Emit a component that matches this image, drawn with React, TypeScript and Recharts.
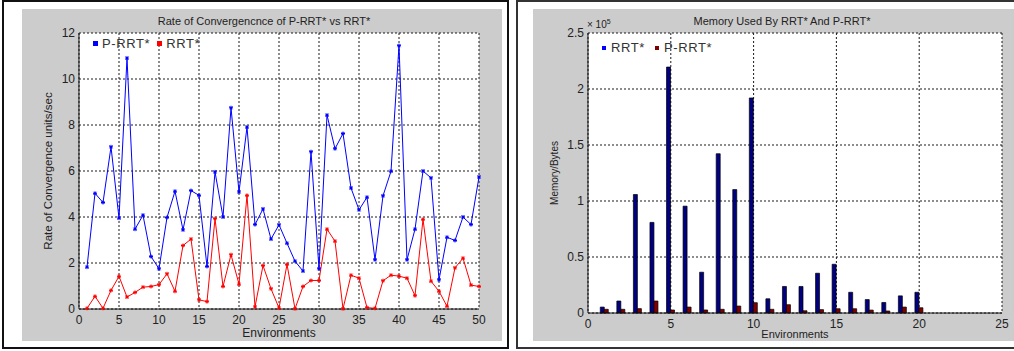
import React from 'react';
import { LineChart, Line, BarChart, Bar, XAxis, YAxis, CartesianGrid, Legend } from 'recharts';

// Rate of convergence, environments 1..50
const ENVIRONMENTS = Array.from({ length: 50 }, (_, i) => i + 1);
const P_RRT_RATE = [
  1.82, 5.03, 4.63, 7.05, 3.95, 10.91, 3.47, 4.08, 2.28, 1.75,
  3.98, 5.12, 3.44, 5.15, 4.94, 1.85, 5.96, 4.0, 8.75, 5.09,
  7.91, 3.67, 4.35, 3.04, 3.66, 2.86, 2.08, 1.65, 6.84, 1.75,
  8.43, 6.97, 7.63, 5.26, 4.31, 4.86, 2.14, 4.92, 5.99, 11.45,
  2.14, 3.47, 6.0, 5.7, 1.27, 3.12, 2.98, 4.0, 3.67, 5.74,
];
const RRT_RATE = [
  0.03, 0.55, 0.03, 0.81, 1.42, 0.52, 0.72, 0.95, 0.98, 1.06,
  1.53, 0.77, 2.76, 3.04, 0.4, 0.32, 3.93, 0.98, 2.36, 1.08,
  4.94, 0.09, 1.89, 0.88, 0.04, 1.94, 0.01, 0.98, 1.24, 1.24,
  3.47, 2.95, 0.01, 1.47, 1.34, 0.06, 0.03, 1.23, 1.47, 1.43,
  1.34, 0.58, 3.9, 1.21, 0.77, 0.12, 1.79, 2.21, 1.04, 0.98,
];
const RATE_X_TICKS = [0, 5, 10, 15, 20, 25, 30, 35, 40, 45, 50];
const RATE_Y_TICKS = [0, 2, 4, 6, 8, 10, 12];

// Memory (bytes), environments 1..20
const MEM_ENVIRONMENTS = Array.from({ length: 20 }, (_, i) => i + 1);
const RRT_MEMORY = [
  5300, 10700, 105800, 80900, 219600, 95400, 36400, 142200, 110200, 192000,
  12700, 23700, 23700, 35500, 43500, 18500, 12000, 9400, 15300, 18500,
];
const P_RRT_MEMORY = [
  3300, 3300, 3900, 10700, 2700, 5300, 2700, 3300, 6200, 9200,
  3300, 7400, 2000, 3000, 3800, 3800, 2600, 1800, 5300, 4700,
];
const MEM_X_TICKS = [0, 5, 10, 15, 20, 25];
const MEM_Y_TICKS = [0, 50000, 100000, 150000, 200000, 250000];

const rateData = ENVIRONMENTS.map((env, i) => ({ env, prrt: P_RRT_RATE[i], rrt: RRT_RATE[i] }));
const memData = MEM_ENVIRONMENTS.map((env, i) => ({ env, rrt: RRT_MEMORY[i], prrt: P_RRT_MEMORY[i] }));

const FONT = '"Liberation Sans", Arial, sans-serif';
const tickStyle = { fill: '#222', fontSize: 12, fontFamily: FONT };
const gridColor = '#1a1a1a';

const starDot = (color: string) => (props: any) => {
  const { cx, cy, index } = props;
  if (cx == null || cy == null) return <g key={`s-${index}`} />;
  const r = 2;
  return (
    <g key={`s-${index}`} stroke={color} strokeWidth={1}>
      <line x1={cx - r} y1={cy} x2={cx + r} y2={cy} />
      <line x1={cx} y1={cy - r} x2={cx} y2={cy + r} />
      <line x1={cx - 1.5} y1={cy - 1.5} x2={cx + 1.5} y2={cy + 1.5} />
      <line x1={cx - 1.5} y1={cy + 1.5} x2={cx + 1.5} y2={cy - 1.5} />
    </g>
  );
};

// legend keeps series order (recharts sorts by name otherwise)
const legendContent =
  (order: string[], colors: Record<string, string>, sq: number, gap: number, between: number) => (props: any) => {
    const items = [...(props.payload || [])].sort(
      (a: any, b: any) => order.indexOf(a.dataKey) - order.indexOf(b.dataKey)
    );
    return (
      <div style={{ display: 'flex', alignItems: 'center', fontSize: 13, letterSpacing: 0.6, color: '#333', lineHeight: '15px', fontFamily: FONT }}>
        {items.map((p: any, i: number) => (
          <div key={i} style={{ display: 'flex', alignItems: 'center', marginLeft: i ? between : 0 }}>
            <div style={{ width: sq, height: sq, background: colors[p.dataKey] ?? p.color, marginRight: gap }} />
            <span>{p.value}</span>
          </div>
        ))}
      </div>
    );
  };

const RateChart = () => (
  <LineChart width={480} height={332} data={rateData} margin={{ top: 24, right: 23, left: 0, bottom: 0 }}>
    <CartesianGrid fill="#fff" stroke={gridColor} strokeDasharray="2 2" />
    <XAxis
      dataKey="env"
      type="number"
      domain={[0, 50]}
      ticks={RATE_X_TICKS}
      height={32}
      tickSize={0}
      tickMargin={6}
      tick={tickStyle}
      axisLine={{ stroke: '#111' }}
      label={{ value: 'Environments', position: 'insideBottom', offset: 4, style: { fill: '#222', fontSize: 12, fontFamily: FONT } }}
    />
    <XAxis xAxisId="top" orientation="top" dataKey="env" type="number" domain={[0, 50]} height={0} tick={false} tickLine={false} axisLine={{ stroke: '#111' }} />
    <YAxis
      type="number"
      domain={[0, 12]}
      ticks={RATE_Y_TICKS}
      width={57}
      tickSize={0}
      tickMargin={4}
      tick={tickStyle}
      axisLine={{ stroke: '#111' }}
      label={{ value: 'Rate of Convergence units/sec', angle: -90, position: 'insideLeft', offset: 26, style: { textAnchor: 'middle', fill: '#222', fontSize: 11.5, fontFamily: FONT } }}
    />
    <YAxis yAxisId="right" orientation="right" type="number" domain={[0, 12]} width={0} tick={false} tickLine={false} axisLine={{ stroke: '#111' }} />
    <Legend
      verticalAlign="middle"
      align="center"
      layout="horizontal"
      wrapperStyle={{ left: 71, top: 27, width: 'auto' }}
      content={legendContent(['prrt', 'rrt'], { prrt: '#0000ff', rrt: '#ff0000' }, 5, 4, 7)}
    />
    <Line dataKey="prrt" name="P-RRT*" stroke="#0000ff" strokeWidth={1} dot={starDot('#0000ff')} activeDot={false} isAnimationActive={false} />
    <Line dataKey="rrt" name="RRT*" stroke="#ff0000" strokeWidth={1} dot={starDot('#ff0000')} activeDot={false} isAnimationActive={false} />
  </LineChart>
);

const MemoryChart = () => (
  <BarChart width={481} height={332} data={memData} margin={{ top: 24, right: 12, left: 0, bottom: 0 }} barGap={0}>
    <CartesianGrid fill="#fff" stroke={gridColor} strokeDasharray="2 2" />
    <XAxis
      dataKey="env"
      type="number"
      domain={[0, 25]}
      ticks={MEM_X_TICKS}
      height={28}
      tickSize={0}
      tickMargin={6}
      tick={tickStyle}
      axisLine={{ stroke: '#111' }}
      label={{ value: 'Environments', position: 'insideBottom', offset: 3, style: { fill: '#222', fontSize: 11, fontFamily: FONT } }}
    />
    <XAxis xAxisId="top" orientation="top" dataKey="env" type="number" domain={[0, 25]} height={0} tick={false} tickLine={false} axisLine={{ stroke: '#111' }} />
    <YAxis
      type="number"
      domain={[0, 250000]}
      ticks={MEM_Y_TICKS}
      tickFormatter={(v: number) => String(v / 100000)}
      width={55}
      tickSize={0}
      tickMargin={4}
      tick={tickStyle}
      axisLine={{ stroke: '#111' }}
      label={{ value: 'Memory/Bytes', angle: -90, position: 'insideLeft', offset: 21, style: { textAnchor: 'middle', fill: '#222', fontSize: 10, fontFamily: FONT } }}
    />
    <YAxis yAxisId="right" orientation="right" type="number" domain={[0, 250000]} width={0} tick={false} tickLine={false} axisLine={{ stroke: '#111' }} />
    <Legend
      verticalAlign="middle"
      align="center"
      layout="horizontal"
      wrapperStyle={{ left: 69, top: 31, width: 'auto' }}
      content={legendContent(['rrt', 'prrt'], { rrt: '#0000ff', prrt: '#800000' }, 4, 5, 10)}
    />
    <Bar dataKey="rrt" name="RRT*" fill="#000080" stroke="#000" strokeWidth={0.7} barSize={4} isAnimationActive={false} />
    <Bar dataKey="prrt" name="P-RRT*" fill="#800000" stroke="#000" strokeWidth={0.7} barSize={4} isAnimationActive={false} />
  </BarChart>
);

export default function App() {
  return (
    <div style={{ position: 'absolute', left: 0, top: 0, width: 1014, height: 351, background: '#fff', overflow: 'hidden', fontFamily: FONT }}>
      <div style={{ position: 'absolute', left: 2, top: 0, width: 507, height: 349, border: '2px solid #111', boxSizing: 'border-box' }} />
      <div style={{ position: 'absolute', left: 516, top: 0, width: 520, height: 349, border: '2px solid #333', boxSizing: 'border-box' }} />

      <div style={{ position: 'absolute', left: 22, top: 9, width: 480, height: 332, background: '#cccccc' }}>
        <RateChart />
      </div>
      <div style={{ position: 'absolute', left: 114, top: 14, width: 300, textAlign: 'center', fontSize: 11, lineHeight: '14px', color: '#222' }}>
        Rate of Convergencnce of P-RRT* vs RRT*
      </div>

      <div style={{ position: 'absolute', left: 533, top: 9, width: 481, height: 332, background: '#cccccc' }}>
        <MemoryChart />
      </div>
      <div style={{ position: 'absolute', left: 632, top: 14, width: 300, textAlign: 'center', fontSize: 11, lineHeight: '14px', color: '#222' }}>
        Memory Used By RRT* And P-RRT*
      </div>
      <div style={{ position: 'absolute', left: 587, top: 19, fontSize: 10, lineHeight: '12px', color: '#222' }}>
        × 10<sup style={{ fontSize: 7, verticalAlign: 'top', position: 'relative', top: -3 }}>5</sup>
      </div>
    </div>
  );
}
